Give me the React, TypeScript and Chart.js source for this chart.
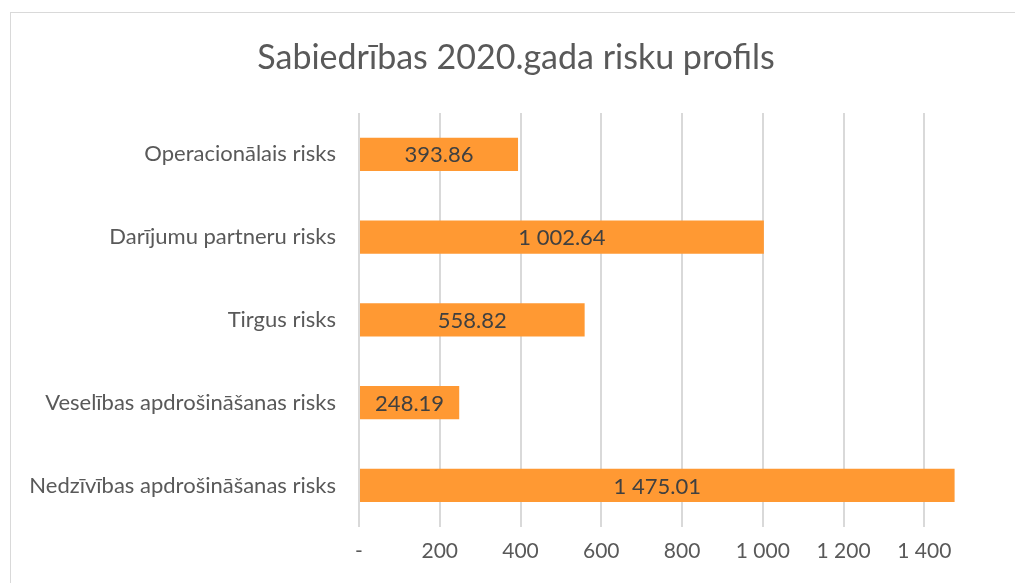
import React, { useEffect, useRef } from "react";
import { Chart, registerables } from "chart.js";

Chart.register(...registerables);

const TITLE = "Sabiedrības 2020.gada risku profils";
const categories = [
  "Operacionālais risks",
  "Darījumu partneru risks",
  "Tirgus risks",
  "Veselības apdrošināšanas risks",
  "Nedzīvības apdrošināšanas risks",
];
const values = [393.86, 1002.64, 558.82, 248.19, 1475.01];
const tickValues = [0, 200, 400, 600, 800, 1000, 1200, 1400];

const FONT = "Lato, 'Open Sans', sans-serif";

function groupThousands(s: string): string {
  return s.replace(/\B(?=(\d{3})+(?!\d))/g, " ");
}
function fmtValue(v: number): string {
  const [i, d] = v.toFixed(2).split(".");
  return groupThousands(i) + "." + d;
}
function fmtTick(v: number): string {
  if (v === 0) return "-";
  return groupThousands(String(Math.round(v)));
}

const labelPlugin = {
  id: "barLabels",
  afterDatasetsDraw(chart: any) {
    const ctx = chart.ctx;
    const meta = chart.getDatasetMeta(0);
    ctx.save();
    ctx.font = `22px ${FONT}`;
    ctx.fillStyle = "#404040";
    ctx.textAlign = "center";
    ctx.textBaseline = "middle";
    meta.data.forEach((bar: any, i: number) => {
      const cx = (bar.x + bar.base) / 2;
      ctx.fillText(fmtValue(values[i]), cx, bar.y + 1);
    });
    ctx.restore();
  },
};

const titlePlugin = {
  id: "customTitle",
  afterDraw(chart: any) {
    const ctx = chart.ctx;
    ctx.save();
    ctx.font = `34px ${FONT}`;
    ctx.fillStyle = "#595959";
    ctx.textAlign = "center";
    ctx.textBaseline = "middle";
    ctx.fillText(TITLE, 516, 58);
    ctx.restore();
  },
};

export default function App() {
  const ref = useRef<HTMLCanvasElement | null>(null);
  useEffect(() => {
    if (!ref.current) return;
    const chart = new Chart(ref.current, {
      type: "bar",
      data: {
        labels: categories,
        datasets: [
          {
            data: values,
            backgroundColor: "#FF9933",
            borderWidth: 0,
            barPercentage: 0.4,
            categoryPercentage: 1,
          },
        ],
      },
      options: {
        indexAxis: "y",
        animation: false,
        responsive: false,
        maintainAspectRatio: false,
        layout: { padding: { top: 113, right: 60, bottom: 7, left: 0 } },
        plugins: {
          legend: { display: false },
          tooltip: { enabled: false },
          title: { display: false },
        },
        scales: {
          x: {
            min: 0,
            max: 1476,
            afterBuildTicks: (scale: any) => {
              scale.ticks = tickValues.map((v) => ({ value: v }));
            },
            grid: { color: "#d9d9d9", lineWidth: 2, drawTicks: false },
            border: { display: false },
            ticks: {
              color: "#595959",
              font: { family: FONT, size: 21 },
              padding: 12,
              maxRotation: 0,
              callback: (v: any) => fmtTick(Number(v)),
            },
          },
          y: {
            grid: { display: false, drawTicks: false },
            border: { display: false },
            afterFit: (scale: any) => {
              scale.width = 359;
            },
            ticks: {
              color: "#595959",
              font: { family: FONT, size: 22 },
              padding: 23,
            },
          },
        },
      },
      plugins: [labelPlugin, titlePlugin],
    });
    return () => chart.destroy();
  }, []);
  return (
    <div style={{ position: "fixed", left: 0, top: 0, width: 1015, height: 583, background: "#fff", overflow: "hidden" }}>
      <div
        style={{
          position: "absolute",
          left: 10,
          top: 12,
          width: 1200,
          height: 800,
          border: "1px solid #d9d9d9",
          boxSizing: "border-box",
        }}
      />
      <canvas ref={ref} width={1015} height={583} style={{ position: "absolute", left: 0, top: 0, width: 1015, height: 583 }} />
    </div>
  );
}
